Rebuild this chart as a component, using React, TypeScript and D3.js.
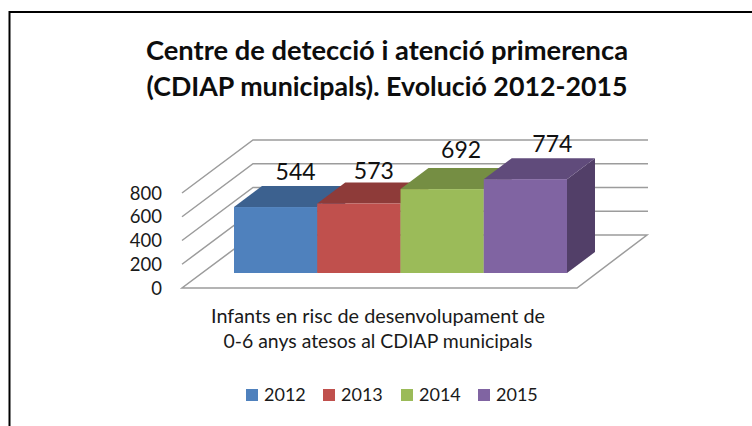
import React, { useRef, useEffect } from "react";
import * as d3 from "d3";

const years = ["2012", "2013", "2014", "2015"];
const values = [544, 573, 692, 774];
const colors = ["#4f81bd", "#c0504d", "#9bbb59", "#8064a2"];
const topColors = ["#3c618f", "#8e3b39", "#758e43", "#604b7b"];
const sideColors = ["#344f75", "#773230", "#5f7436", "#523f68"];
const yTicks = [0, 200, 400, 600, 800];
const titleLines = ["Centre de detecció i atenció primerenca", "(CDIAP municipals). Evolució 2012-2015"];
const axisTitleLines = ["Infants en risc de desenvolupament de", "0-6 anys atesos al CDIAP municipals"];

const App = () => {
    const ref = useRef<SVGSVGElement>(null);

    useEffect(() => {
        const svgWidth = 752;
        const svgHeight = 426;
        const font = "Lato, 'Open Sans', sans-serif";
        const textColor = "#1a1a1a";
        const gridColor = "#9c9c9c";

        // floor corners and depth of the 3d box
        const floor = { left: 182, right: 577, front: 288, depthX: 71, depthY: 53 };
        const barBase = 273;
        const barDepthX = 28;
        const barDepthY = 21;

        // hand placed labels, excel scatters these a bit
        const labelShiftX = [20, 15, 19, 27];
        const labelShiftY = [27, 25, 31, 27];
        const titleWidths = [482, 481];
        const axisTitleWidths = [334, 309];

        const svg = d3.select(ref.current)
            .attr("width", svgWidth)
            .attr("height", svgHeight);

        svg.selectAll("*").remove();

        // Outer frame, cut off by the screenshot on the right and at the bottom
        svg.append("path")
            .attr("d", "M9.5,426V12H752")
            .attr("fill", "none")
            .attr("stroke", "#000")
            .attr("stroke-width", 2);

        // Title
        svg.append("g").selectAll("text").data(titleLines).join("text")
            .attr("x", 387)
            .attr("y", (d, i) => 60 + i * 36)
            .attr("text-anchor", "middle")
            .attr("textLength", (d, i) => titleWidths[i])
            .attr("lengthAdjust", "spacingAndGlyphs")
            .style("font-family", font)
            .style("font-size", "27px")
            .style("font-weight", "bold")
            .style("fill", "#0d0d0d")
            .text(d => d);

        const yScale = d3.scaleLinear().domain([0, 800]).range([floor.front, 193]);
        const heightScale = d3.scaleLinear().domain([0, 800]).range([0, 97]);
        const xScale = d3.scaleBand<string>().domain(years).range([234, 567]);

        // Left wall + back wall grid lines (the 0 one is the floor)
        const grid = svg.append("g").attr("fill", "none").attr("stroke", gridColor).attr("stroke-width", 1.5);
        grid.selectAll("path").data(yTicks.slice(1)).join("path")
            .attr("d", d => {
                const y = yScale(d);
                return `M${floor.left},${y}L${floor.left + floor.depthX},${y - floor.depthY}L${floor.right + floor.depthX},${y - floor.depthY}`;
            });

        // Floor
        svg.append("path")
            .attr("d", `M${floor.left},${floor.front}L${floor.right},${floor.front}L${floor.right + floor.depthX - 1},${floor.front - floor.depthY}L${floor.left + floor.depthX},${floor.front - floor.depthY}Z`)
            .attr("fill", "#fff")
            .attr("stroke", gridColor)
            .attr("stroke-width", 1.5);

        // Y axis labels
        svg.append("g").selectAll("text").data(yTicks).join("text")
            .attr("x", 162)
            .attr("y", d => yScale(d) + 6.5)
            .attr("text-anchor", "end")
            .style("font-family", font)
            .style("font-size", "18.5px")
            .style("fill", textColor)
            .text(d => d);

        // Bars, left to right so each one covers the side of the previous
        years.forEach((year, i) => {
            const x0 = xScale(year) as number;
            const x1 = x0 + xScale.bandwidth();
            const top = barBase - heightScale(values[i]);
            const bar = svg.append("g");

            bar.append("path")
                .attr("d", `M${x1},${barBase}L${x1 + barDepthX},${barBase - barDepthY}L${x1 + barDepthX},${top - barDepthY}L${x1},${top}Z`)
                .attr("fill", sideColors[i]);
            bar.append("path")
                .attr("d", `M${x0},${top}L${x0 + barDepthX},${top - barDepthY}L${x1 + barDepthX},${top - barDepthY}L${x1},${top}Z`)
                .attr("fill", topColors[i]);
            bar.append("rect")
                .attr("x", x0)
                .attr("y", top)
                .attr("width", xScale.bandwidth())
                .attr("height", heightScale(values[i]))
                .attr("fill", colors[i]);
        });

        // Value labels
        svg.append("g").selectAll("text").data(values).join("text")
            .attr("x", (d, i) => (xScale(years[i]) as number) + xScale.bandwidth() / 2 + labelShiftX[i])
            .attr("y", (d, i) => barBase - heightScale(d) - labelShiftY[i])
            .attr("text-anchor", "middle")
            .style("font-family", font)
            .style("font-size", "23px")
            .style("fill", "#111")
            .text(d => d);

        // Category axis title
        svg.append("g").selectAll("text").data(axisTitleLines).join("text")
            .attr("x", 378)
            .attr("y", (d, i) => 323 + i * 25)
            .attr("text-anchor", "middle")
            .attr("textLength", (d, i) => axisTitleWidths[i])
            .attr("lengthAdjust", "spacingAndGlyphs")
            .style("font-family", font)
            .style("font-size", "18.5px")
            .style("fill", textColor)
            .text(d => d);

        // Legend
        const legendX = d3.scaleOrdinal<string, number>().domain(years).range([246, 323, 401, 478]);
        const legend = svg.append("g").selectAll("g").data(years).join("g")
            .attr("transform", d => `translate(${legendX(d)},389)`);
        legend.append("rect")
            .attr("width", 12)
            .attr("height", 12)
            .attr("fill", (d, i) => colors[i]);
        legend.append("text")
            .attr("x", 18)
            .attr("y", 12)
            .style("font-family", font)
            .style("font-size", "18px")
            .style("fill", textColor)
            .text(d => d);
    }, []);

    return (
        <div style={{ position: "absolute", top: 0, left: 0, background: "#fff" }}>
            <svg ref={ref} style={{ display: "block" }}></svg>
        </div>
    );
};

export default App;
